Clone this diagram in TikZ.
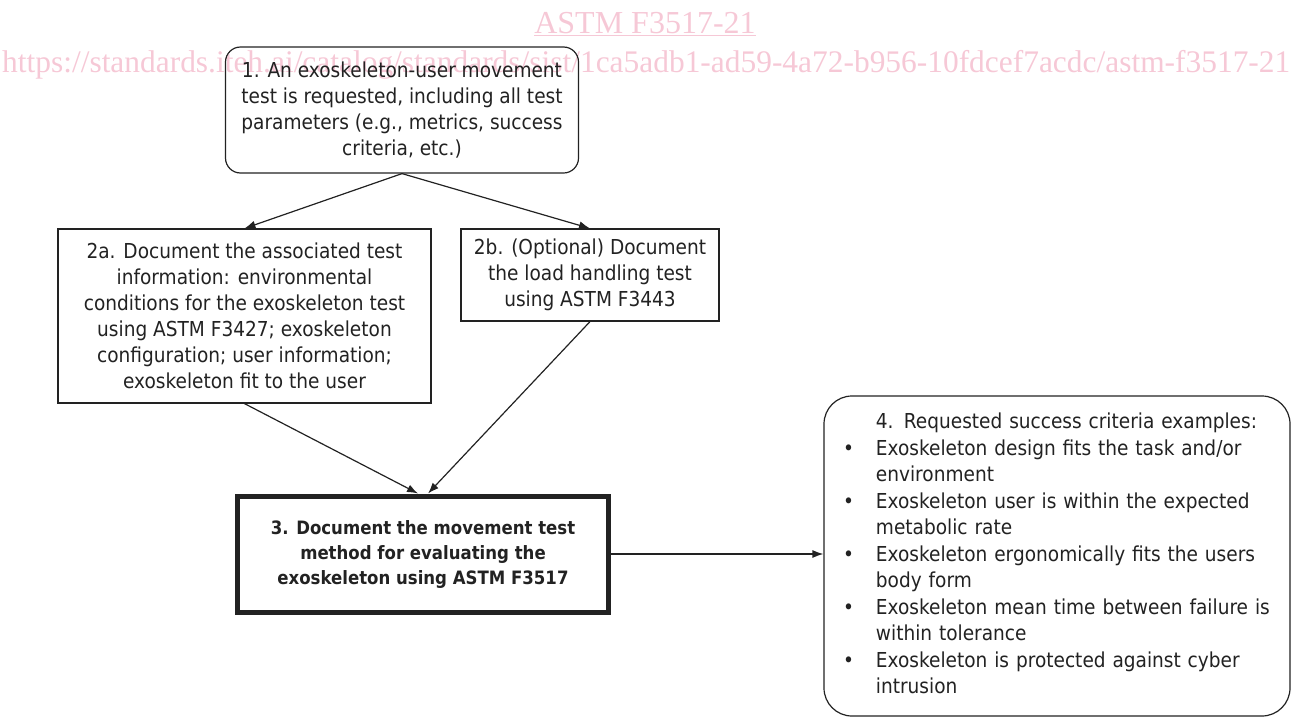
\documentclass[tikz,border=0pt]{standalone}
\usepackage{fontspec}
\setmainfont{DejaVu Sans}[FakeStretch=0.9]
\newfontfamily\markfont{Liberation Serif}
\usepackage{tikz}
\usetikzlibrary{calc}
\usetikzlibrary{shapes}
\usetikzlibrary{arrows.meta}
\usetikzlibrary{positioning}

\definecolor{markpink}{RGB}{246,200,214}
\definecolor{ink}{RGB}{34,34,34}

\tikzset{
  box/.style = {rectangle, draw = ink, line width = 1.2pt, text = ink, align = center, inner sep = 0pt, font = \fontsize{20.6}{26}\selectfont},
  flow/.style = {draw = ink, line width = 1.2pt, -{Latex[length = 11pt, width = 8pt]}}
}

\begin{document}
\begin{tikzpicture}[x = 1pt, y = -1pt]
\useasboundingbox (0,0) rectangle (1293,718);
% watermark
\draw (645,33) node[anchor = base, name = stdmark, text = markpink, inner sep = 0pt, font = \markfont\fontsize{32}{34}\selectfont]{\underline{ASTM F3517-21}};
\draw (2,72) node[anchor = base west, name = urlmark, text = markpink, inner sep = 0pt]{\resizebox{1288pt}{!}{\markfont https://standards.iteh.ai/catalog/standards/sist/1ca5adb1-ad59-4a72-b956-10fdcef7acdc/astm-f3517-21}};
% steps
\draw (402,110) node[box, rounded corners = 15pt, minimum width = 353pt, minimum height = 126pt, name = step1]{1. An exoskeleton-user movement\\ test is requested, including all test\\ parameters (e.g., metrics, success\\ criteria, etc.)};
\draw (244.5,316) node[box, minimum width = 373pt, minimum height = 174pt, name = step2a]{2a. Document the associated test\\ information: environmental\\ conditions for the exoskeleton test\\ using ASTM F3427; exoskeleton\\ configuration; user information;\\ exoskeleton fit to the user};
\draw (590,275) node[box, minimum width = 258pt, minimum height = 92pt, name = step2b]{2b. (Optional) Document\\ the load handling test\\ using ASTM F3443};
\draw (423,554) node[box, line width = 5pt, minimum width = 371pt, minimum height = 116pt, font = \bfseries\fontsize{18.4}{25}\selectfont, name = step3]{3. Document the movement test\\ method for evaluating the\\ exoskeleton using ASTM F3517};
\draw (1057,556) node[box, rounded corners = 28pt, minimum width = 466pt, minimum height = 320pt, text width = 428pt, align = left, font = \fontsize{20.6}{26.5}\selectfont, name = crit]{%
\begin{tabular}{@{}c@{\hspace{22pt}}l@{}}
 & 4. Requested success criteria examples:\\
\textbullet & Exoskeleton design fits the task and/or\\
 & environment\\
\textbullet & Exoskeleton user is within the expected\\
 & metabolic rate\\
\textbullet & Exoskeleton ergonomically fits the users\\
 & body form\\
\textbullet & Exoskeleton mean time between failure is\\
 & within tolerance\\
\textbullet & Exoskeleton is protected against cyber\\
 & intrusion
\end{tabular}};
% connectors
\draw[flow] (step1.south) -- (step2a.north);
\draw[flow] (step1.south) -- (step2b.north);
\draw[flow] (step2a.south) -- ([xshift = -5pt]step3.north);
\draw[flow] (step2b.south) -- ([xshift = 5pt]step3.north);
\draw[flow] (step3.east) -- (step3.east -| crit.west);
\end{tikzpicture}
\end{document}
